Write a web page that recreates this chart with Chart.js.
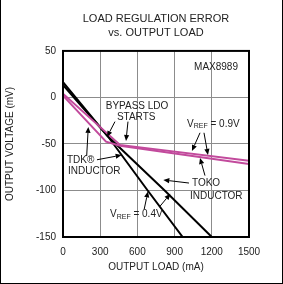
<!DOCTYPE html>
<html>
<head>
<meta charset="utf-8">
<script src="https://cdn.jsdelivr.net/npm/chart.js@4/dist/chart.umd.min.js"></script>
<style>
  html, body { margin: 0; padding: 0; background: #fff; }
  canvas { display: block; }
</style>
</head>
<body>
<canvas id="loadChart" width="283" height="284"></canvas>
<script>
// values (load in mA, error in mV)
const loadTdk04 = [0, 363, 683, 965];
const voltTdk04 = [16.5, -42, -100, -150];
const loadToko04 = [0, 363, 820, 1200];
const voltToko04 = [13.5, -42, -100, -150];
const loadTdk09 = [0, 347, 460, 1500];
const voltTdk09 = [2, -47.5, -52, -71.5];
const loadToko09 = [0, 460, 1500];
const voltToko09 = [4, -51, -68];
const xTicks = [0, 300, 600, 900, 1200, 1500];
const yTicks = [-150, -100, -50, 0, 50];

const FONT = '"Liberation Sans", Arial, sans-serif';
const MAGENTA = '#c24a9c';

function pts(xs, ys) {
  return xs.map((x, i) => ({ x: x, y: ys[i] }));
}

// text notes and arrows, placed in data units
const notes = [
  { t: 'MAX8989', x: 1234, y: 32, align: 'center' },
  { t: 'BYPASS LDO', x: 597, y: -9, align: 'center' },
  { t: 'STARTS', x: 590, y: -21, align: 'center' },
  { t: 'V|REF| = 0.9V', x: 1000, y: -28.5, align: 'left' },
  { t: 'TDK®', x: 32, y: -67, align: 'left' },
  { t: 'INDUCTOR', x: 40, y: -79.5, align: 'left' },
  { t: 'TOKO', x: 1040, y: -92.5, align: 'left' },
  { t: 'INDUCTOR', x: 1024, y: -106, align: 'left' },
  { t: 'V|REF| = 0.4V', x: 379, y: -126, align: 'left' }
];
const arrows = [
  [419, -26, 355, -42.5],
  [524, -26, 508, -46.8],
  [1105, -38, 1040, -57.5],
  [1137, -38, 1169, -61.8],
  [191, -63, 204, -31.7],
  [274, -67, 473, -62],
  [1016, -92, 809, -88.7],
  [1145, -84, 1105, -65],
  [655, -120, 685, -101],
  [782, -117, 866, -103.5]
];

const decor = {
  id: 'decor',
  afterDatasetsDraw(chart) {
    const { ctx, chartArea: a, scales: { x, y } } = chart;
    ctx.save();
    // plot frame
    ctx.strokeStyle = '#000';
    ctx.lineWidth = 2;
    ctx.strokeRect(a.left, a.top, a.right - a.left, a.bottom - a.top);

    // arrows
    ctx.lineWidth = 1;
    ctx.fillStyle = '#000';
    arrows.forEach(ar => {
      const x0 = x.getPixelForValue(ar[0]), y0 = y.getPixelForValue(ar[1]);
      const x1 = x.getPixelForValue(ar[2]), y1 = y.getPixelForValue(ar[3]);
      const ang = Math.atan2(y1 - y0, x1 - x0);
      const hl = 6, hw = 2.6;
      const bx = x1 - hl * Math.cos(ang), by = y1 - hl * Math.sin(ang);
      ctx.beginPath();
      ctx.moveTo(x0, y0);
      ctx.lineTo(bx, by);
      ctx.stroke();
      ctx.beginPath();
      ctx.moveTo(x1, y1);
      ctx.lineTo(bx + hw * Math.sin(ang), by - hw * Math.cos(ang));
      ctx.lineTo(bx - hw * Math.sin(ang), by + hw * Math.cos(ang));
      ctx.closePath();
      ctx.fill();
    });

    // notes (|..| marks a subscript)
    ctx.fillStyle = '#222';
    ctx.textBaseline = 'middle';
    notes.forEach(n => {
      const px = x.getPixelForValue(n.x), py = y.getPixelForValue(n.y);
      const parts = n.t.split('|');
      if (parts.length === 1) {
        ctx.font = '10px ' + FONT;
        ctx.textAlign = n.align;
        ctx.fillText(n.t, px, py);
        return;
      }
      ctx.textAlign = 'left';
      let cx = px;
      parts.forEach((p, i) => {
        const sub = i % 2 === 1;
        ctx.font = (sub ? '7px ' : '10px ') + FONT;
        ctx.fillText(p, cx, sub ? py + 2 : py);
        cx += ctx.measureText(p).width;
      });
    });

    // outer image border (left, right, bottom)
    ctx.fillStyle = '#000';
    ctx.fillRect(0, 0, 1, chart.height);
    ctx.fillRect(chart.width - 1, 0, 1, chart.height);
    ctx.fillRect(0, chart.height - 1, chart.width, 1);
    ctx.restore();
  }
};

const ctx = document.getElementById('loadChart').getContext('2d');
const loadChart = new Chart(ctx, {
  type: 'line',
  data: {
    datasets: [
      { data: pts(loadTdk09, voltTdk09), borderColor: MAGENTA },
      { data: pts(loadToko09, voltToko09), borderColor: MAGENTA },
      { data: pts(loadTdk04, voltTdk04), borderColor: '#000' },
      { data: pts(loadToko04, voltToko04), borderColor: '#000' }
    ]
  },
  options: {
    responsive: false,
    animation: false,
    devicePixelRatio: 1,
    parsing: false,
    elements: {
      line: { borderWidth: 2, tension: 0 },
      point: { radius: 0 }
    },
    layout: { padding: { left: 0, right: 34, top: 0, bottom: 0 } },
    plugins: {
      legend: { display: false },
      tooltip: { enabled: false },
      title: {
        display: true,
        fullSize: false,
        text: ['LOAD REGULATION ERROR', 'vs. OUTPUT LOAD'],
        color: '#222',
        font: { family: FONT, size: 11, weight: 'normal', lineHeight: 1.36 },
        padding: { top: 11, bottom: 10 }
      }
    },
    scales: {
      x: {
        type: 'linear',
        min: 0,
        max: 1500,
        afterBuildTicks: s => { s.ticks = xTicks.map(v => ({ value: v })); },
        afterFit: s => { s.height = 47; },
        grid: { color: '#8c8c8c', lineWidth: 1, drawTicks: false },
        border: { display: false },
        ticks: {
          color: '#222', padding: 9, font: { family: FONT, size: 10 },
          callback: v => String(v)
        },
        title: {
          display: true,
          text: 'OUTPUT LOAD (mA)',
          color: '#222',
          font: { family: FONT, size: 10 },
          padding: { top: 0, bottom: 11 }
        }
      },
      y: {
        type: 'linear',
        min: -150,
        max: 50,
        afterBuildTicks: s => { s.ticks = yTicks.map(v => ({ value: v })); },
        afterFit: s => { s.width = 63; },
        grid: { color: '#8c8c8c', lineWidth: 1, drawTicks: false },
        border: { display: false },
        ticks: {
          color: '#222', padding: 7, font: { family: FONT, size: 10 },
          callback: v => String(v)
        },
        title: {
          display: true,
          text: 'OUTPUT VOLTAGE (mV)',
          color: '#222',
          font: { family: FONT, size: 10 },
          padding: { top: 4, bottom: 0 }
        }
      }
    }
  },
  plugins: [decor]
});
</script>
</body>
</html>
